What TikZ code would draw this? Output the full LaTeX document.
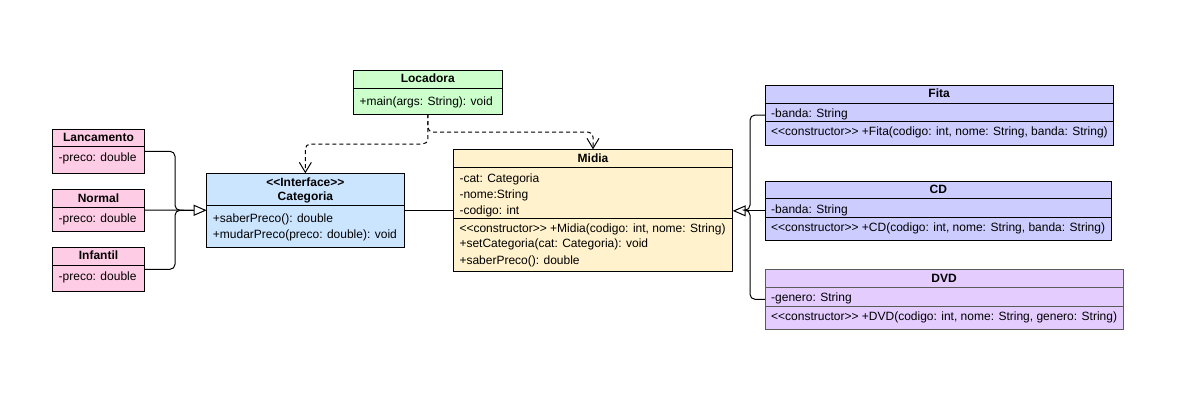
\documentclass[tikz,border=0pt]{standalone}
\usepackage{fontspec}
\setmainfont{Liberation Sans}
\usetikzlibrary{arrows.meta,calc}

\definecolor{pinkfill}{HTML}{FFCCE6}
\definecolor{bluefill}{HTML}{CCE5FF}
\definecolor{greenfill}{HTML}{CCFFCC}
\definecolor{yellowfill}{HTML}{FFF2CC}
\definecolor{lavfill}{HTML}{CCCCFF}
\definecolor{purplefill}{HTML}{E5CCFF}
\definecolor{dvdline}{HTML}{5A5A5A}

\begin{document}
\begin{tikzpicture}[x=1pt,y=-1pt,
  font=\fontsize{12}{14}\selectfont,
  cell/.style={draw, line width=1pt, anchor=north west, inner sep=0pt, outer sep=0pt},
  txt/.style={anchor=base west, inner sep=0pt},
  ttl/.style={anchor=base, inner sep=0pt, font=\fontsize{12}{14}\selectfont\bfseries},
  conn/.style={line width=1pt, rounded corners=5pt},
  gen/.style={conn, -{Triangle[open, length=13pt, width=11pt]}},
  dep/.style={conn, dash pattern=on 4pt off 3pt, -{Straight Barb[length=10pt, width=12pt]}}]

% page frame
\fill[white] (0,0) rectangle (1193,402);

% ---------- Lancamento ----------
\node[cell, fill=pinkfill, minimum width=92pt, minimum height=44pt] (lanc) at (52.5,129.3) {};
\node[cell, fill=pinkfill, minimum width=92pt, minimum height=17.4pt] (lanc-h) at (lanc.north west) {};
\node[ttl] (lanc-t) at ($(lanc-h.center)+(0,3.8)$) {Lancamento};
\node[txt] (lanc-a) at ($(lanc-h.south west)+(6,15)$) {-preco: double};

% ---------- Normal ----------
\node[cell, fill=pinkfill, minimum width=92pt, minimum height=41.7pt] (norm) at (52.5,189.3) {};
\node[cell, fill=pinkfill, minimum width=92pt, minimum height=18pt] (norm-h) at (norm.north west) {};
\node[ttl] (norm-t) at ($(norm-h.center)+(0,3.8)$) {Normal};
\node[txt] (norm-a) at ($(norm-h.south west)+(6,15)$) {-preco: double};

% ---------- Infantil ----------
\node[cell, fill=pinkfill, minimum width=92pt, minimum height=44pt] (inf) at (52.5,247.3) {};
\node[cell, fill=pinkfill, minimum width=92pt, minimum height=17.7pt] (inf-h) at (inf.north west) {};
\node[ttl] (inf-t) at ($(inf-h.center)+(0,3.8)$) {Infantil};
\node[txt] (inf-a) at ($(inf-h.south west)+(6,15)$) {-preco: double};

% ---------- Categoria (interface) ----------
\node[cell, fill=bluefill, minimum width=197.3pt, minimum height=74pt] (cat) at (206.7,173.3) {};
\node[cell, fill=bluefill, minimum width=197.3pt, minimum height=31.7pt] (cat-h) at (cat.north west) {};
\node[ttl] (cat-s) at ($(cat-h.north)+(0,12.7)$) {<{}<Interface>{}>};
\node[ttl] (cat-t) at ($(cat-h.north)+(0,27)$) {Categoria};
\node[txt] (cat-m1) at ($(cat-h.south west)+(6,17.3)$) {+saberPreco(): double};
\node[txt] (cat-m2) at ($(cat-h.south west)+(6,33.6)$) {+mudarPreco(preco: double): void};

% ---------- Locadora ----------
\node[cell, fill=greenfill, minimum width=149pt, minimum height=44pt] (loc) at (353.3,70) {};
\node[cell, fill=greenfill, minimum width=149pt, minimum height=18.3pt] (loc-h) at (loc.north west) {};
\node[ttl] (loc-t) at ($(loc-h.center)+(0,3.8)$) {Locadora};
\node[txt] (loc-m) at ($(loc-h.south west)+(6,16.7)$) {+main(args: String): void};

% ---------- Midia ----------
\node[cell, fill=yellowfill, minimum width=279.4pt, minimum height=121.7pt] (mid) at (453.3,149.3) {};
\node[cell, fill=yellowfill, minimum width=279.4pt, minimum height=18pt] (mid-h) at (mid.north west) {};
\node[cell, fill=yellowfill, minimum width=279.4pt, minimum height=51pt] (mid-a) at (mid-h.south west) {};
\node[ttl] (mid-t) at ($(mid-h.center)+(0,3.8)$) {Midia};
\node[txt] (mid-a1) at ($(mid-a.north west)+(6,14.7)$) {-cat: Categoria};
\node[txt] (mid-a2) at ($(mid-a.north west)+(6,31)$) {-nome:String};
\node[txt] (mid-a3) at ($(mid-a.north west)+(6,47)$) {-codigo: int};
\node[txt] (mid-m1) at ($(mid-a.south west)+(6,13.7)$) {<{}<constructor>{}> +Midia(codigo: int, nome: String)};
\node[txt] (mid-m2) at ($(mid-a.south west)+(6,29.3)$) {+setCategoria(cat: Categoria): void};
\node[txt] (mid-m3) at ($(mid-a.south west)+(6,46)$) {+saberPreco(): double};

% ---------- Fita ----------
\node[cell, fill=lavfill, minimum width=348.3pt, minimum height=60pt] (fita) at (765,85) {};
\node[cell, fill=lavfill, minimum width=348.3pt, minimum height=18.3pt] (fita-h) at (fita.north west) {};
\node[cell, fill=lavfill, minimum width=348.3pt, minimum height=18.2pt] (fita-a) at (fita-h.south west) {};
\node[ttl] (fita-t) at ($(fita-h.center)+(0,3.8)$) {Fita};
\node[txt] (fita-a1) at ($(fita-a.north west)+(6,14.5)$) {-banda: String};
\node[txt] (fita-m1) at ($(fita-a.south west)+(6,14)$) {<{}<constructor>{}> +Fita(codigo: int, nome: String, banda: String)};

% ---------- CD ----------
\node[cell, fill=lavfill, minimum width=346.7pt, minimum height=59.7pt] (cd) at (765,181) {};
\node[cell, fill=lavfill, minimum width=346.7pt, minimum height=17.3pt] (cd-h) at (cd.north west) {};
\node[cell, fill=lavfill, minimum width=346.7pt, minimum height=19pt] (cd-a) at (cd-h.south west) {};
\node[ttl] (cd-t) at ($(cd-h.center)+(0,3.8)$) {CD};
\node[txt] (cd-a1) at ($(cd-a.north west)+(6,15)$) {-banda: String};
\node[txt] (cd-m1) at ($(cd-a.south west)+(6,14)$) {<{}<constructor>{}> +CD(codigo: int, nome: String, banda: String)};

% ---------- DVD ----------
\node[cell, draw=dvdline, fill=purplefill, minimum width=358.3pt, minimum height=60pt] (dvd) at (765,269.3) {};
\node[cell, draw=dvdline, fill=purplefill, minimum width=358.3pt, minimum height=18pt] (dvd-h) at (dvd.north west) {};
\node[cell, draw=dvdline, fill=purplefill, minimum width=358.3pt, minimum height=18.7pt] (dvd-a) at (dvd-h.south west) {};
\node[ttl] (dvd-t) at ($(dvd-h.center)+(0,4.2)$) {DVD};
\node[txt] (dvd-a1) at ($(dvd-a.north west)+(6,14.5)$) {-genero: String};
\node[txt] (dvd-m1) at ($(dvd-a.south west)+(6,14.3)$) {<{}<constructor>{}> +DVD(codigo: int, nome: String, genero: String)};

% ---------- connectors ----------
% inheritance of the three price categories
\coordinate (catjoin) at ($(cat.west)+(-31.7,0)$);
\coordinate (catbase) at ($(cat.west)+(-13.4,0)$);
\draw[conn] (lanc.east) -| (catjoin) -- (catbase);
\draw[conn] (inf.east) -| (catjoin) -- (catbase);
\draw[gen] (norm.east) -- (cat.west);

% association Categoria -- Midia
\draw[conn] (cat.east) -- (cat.east -| mid.west);

% inheritance of the media types
\coordinate (midjoin) at ($(mid.east)+(17.3,0)$);
\coordinate (midbase) at ($(mid.east)+(12.7,0)$);
\draw[conn] (fita.west) -| (midjoin) -- (midbase);
\draw[conn] (dvd.west) -| (midjoin) -- (midbase);
\draw[gen] (cd.west) -- (cd.west -| mid.east);

% dependencies of Locadora
\draw[dep] (loc.south) -- ++(0,30) -| (cat.north);
\draw[dep] (loc.south) -- ++(0,18) -| (mid.north);
\end{tikzpicture}
\end{document}
